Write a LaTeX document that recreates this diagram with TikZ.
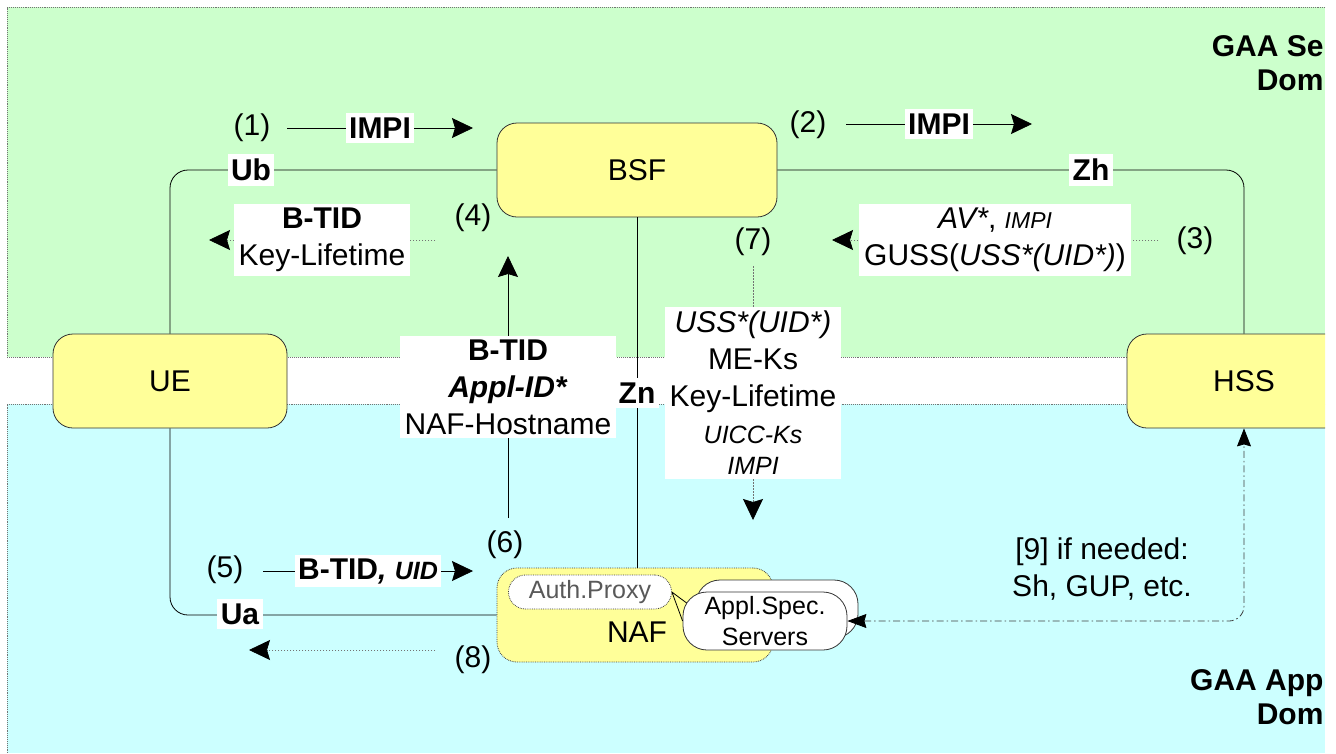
\documentclass[tikz,border=0pt]{standalone}
\usepackage{fontspec}
\setmainfont{Liberation Sans}
\usetikzlibrary{arrows.meta, positioning}

\definecolor{secgreen}{HTML}{CCFFCC}
\definecolor{appcyan}{HTML}{CCFFFF}
\definecolor{boxyellow}{HTML}{FFFF99}

\begin{document}
\begin{tikzpicture}[
  x=1pt, y=-1pt,
  font=\fontsize{30}{37}\selectfont,
  ent/.style={draw=black!80, fill=boxyellow, rounded corners=20pt, minimum width=234pt, minimum height=94pt, line width=0.8pt},
  nafbox/.style={draw=black!75, densely dotted, fill=boxyellow, rounded corners=20pt, minimum width=276pt, minimum height=94pt, line width=0.8pt},
  proxy/.style={draw=black!75, densely dotted, fill=white, rounded corners=17pt, minimum width=163pt, minimum height=34pt, text=black!65, font=\fontsize{25}{30}\selectfont, line width=0.8pt},
  srv/.style={draw=black!80, fill=white, rounded corners=24pt, minimum width=162pt, minimum height=58pt, align=center, font=\fontsize{25}{31}\selectfont, line width=0.8pt},
  ifc/.style={fill=white, font=\fontsize{30}{37}\selectfont\bfseries, inner xsep=3.5pt, inner ysep=5pt},
  info/.style={fill=white, align=center, inner xsep=5pt, inner ysep=4pt},
  region/.style={draw=black!55, densely dotted, line width=0.9pt},
  link/.style={line width=0.8pt, rounded corners=18pt},
  msg/.style={line width=0.8pt, -{Stealth[length=21pt, width=20pt, inset=3pt]}},
  rsp/.style={line width=0.8pt, draw=black!55, dash pattern=on 1.5pt off 1.5pt, -{Stealth[length=21pt, width=20pt, inset=3pt, color=black]}},
  ctl/.style={line width=0.8pt, draw=black!75, rounded corners=15pt, dash pattern=on 7pt off 3pt on 1.5pt off 3pt,
    {Stealth[length=19pt, width=14pt, inset=2pt, color=black]}-{Stealth[length=18pt, width=14pt, inset=2pt, color=black]}}
]
\useasboundingbox (0,0) rectangle (1336,753);

% domains
\fill[secgreen] (7,7) rectangle (1325,357);
\draw[region] (1325,7) -- (7,7) -- (7,357) -- (1325,357);
\fill[appcyan] (7,404) rectangle (1325,753);
\draw[region] (1325,404) -- (7,404) -- (7,753);
\node[anchor=east, align=right, font=\fontsize{30}{34}\selectfont\bfseries] (secdom) at (1327,63) {GAA Se\\Dom};
\node[anchor=east, align=right, font=\fontsize{30}{34}\selectfont\bfseries] (appdom) at (1327,697) {GAA App\\Dom};

% entities
\node[ent] (ue) at (170,381) {UE};
\node[ent, minimum width=280pt] (bsf) at (637,170) {BSF};
\begin{scope}
  \clip (0,0) rectangle (1325,753);
  \node[ent] (hss) at (1244,381) {HSS};
\end{scope}
\node[nafbox] (naf) at (635,615) {};
\node (naflbl) at (637,632) {NAF};
\node[proxy] (proxy) at (590,592) {Auth.Proxy};
\node[srv] (srvb) at (777,609) {};
\node[srv, minimum width=164pt] (srvf) at (765,621) {Appl.Spec.\\Servers};
\draw[line width=0.8pt] (proxy.east) -- ([xshift=4pt, yshift=18pt]srvf.west)
  (proxy.east) -- (srvf.west);

% reference points
\draw[link] (ue.north) |- (bsf.west);
\draw[link] (bsf.east) -| (hss.north);
\draw[link] (bsf.south) -- (bsf.south |- naf.north);
\draw[link] (ue.south) |- (naf.west);
\node[ifc] (ub) at (251,170) {Ub};
\node[ifc] (zh) at (1091,170) {Zh};
\node[ifc] (zn) at (637,393) {Zn};
\node[ifc] (ua) at (240,614) {Ua};

% message flow
\node (n1) at (252,128) {(1)};
\coordinate (a1) at (287,128);
\coordinate (b1) at (473,128);
\draw[msg] (a1) -- (b1) node[midway, ifc] {IMPI};

\node (n2) at (808,125) {(2)};
\coordinate (a2) at (846,124);
\coordinate (b2) at (1032,124);
\draw[msg] (a2) -- (b2) node[midway, ifc] {IMPI};

\node (n3) at (1195,241) {(3)};
\coordinate (a3) at (1158,240);
\coordinate (b3) at (832,240);
\draw[rsp] (a3) -- (b3) node[midway, info] (av) {\textit{AV*}, {\fontsize{23}{28}\selectfont\itshape IMPI}\\GUSS(\textit{USS*(UID*)})};

\node (n4) at (473,218) {(4)};
\coordinate (a4) at (435,240);
\coordinate (b4) at (209,240);
\draw[rsp] (a4) -- (b4) node[midway, info] (btid) {\textbf{B-TID}\\Key-Lifetime};

\node (n5) at (225,570) {(5)};
\coordinate (a5) at (263,571);
\coordinate (b5) at (473,571);
\draw[msg] (a5) -- (b5) node[midway, ifc, inner ysep=3pt] {B-TID\textit{, {\fontsize{25}{30}\selectfont UID}}};

\node (n6) at (505,545) {(6)};
\coordinate (a6) at (508,518);
\coordinate (b6) at (508,256);
\draw[msg] (a6) -- (b6) node[midway, info] (appl) {\textbf{B-TID}\\\textbf{\textit{Appl-ID*}}\\NAF-Hostname};

\node (n7) at (753,242) {(7)};
\coordinate (a7) at (753,266);
\coordinate (b7) at (753,520);
\draw[rsp] (a7) -- (b7) node[midway, info] (uss) {\textit{USS*(UID*)}\\ME-Ks\\Key-Lifetime\\{\fontsize{25}{30}\selectfont\itshape UICC-Ks}\\[-6pt]{\fontsize{25}{30}\selectfont\itshape IMPI}};

\node (n8) at (473,660) {(8)};
\coordinate (a8) at (435,650);
\coordinate (b8) at (249,650);
\draw[rsp] (a8) -- (b8);

% optional HSS access
\draw[ctl] (srvf.east) -| (hss.south);
\node[align=center] (need) at (1102,569) {[9] if needed:\\Sh, GUP, etc.};

\end{tikzpicture}
\end{document}
